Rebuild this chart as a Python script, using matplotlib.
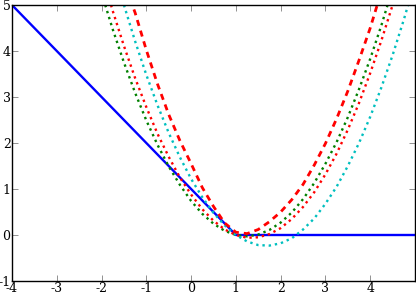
import matplotlib
matplotlib.use('Agg')
import matplotlib.pyplot as plt

plt.rcParams['axes.unicode_minus'] = False

# hinge-style line
x_hinge = [-4, 1, 5]
y_hinge = [5, 0, 0]

x_grid = [-2.0, -1.75, -1.5, -1.25, -1.0, -0.75, -0.5, -0.25, 0.0, 0.25, 0.5, 0.75,
          1.0, 1.25, 1.5, 1.75, 2.0, 2.25, 2.5, 2.75, 3.0, 3.25, 3.5, 3.75, 4.0,
          4.25, 4.5, 4.75, 5.0]

# values (None = out of view)
y_green = [5.26, 4.47, 3.75, 3.09, 2.49, 1.96, 1.49, 1.09, 0.74, 0.46, 0.245, 0.09,
           0.0, -0.03, 0.01, 0.11, 0.27, 0.49, 0.78, 1.13, 1.55, 2.02, 2.56, 3.17, 3.83,
           4.56, 5.36, None, None]
y_red_dot = [5.70, 4.87, 4.11, 3.41, 2.78, 2.20, 1.70, 1.25, 0.88, 0.56, 0.31, 0.12,
             0.0, -0.06, -0.05, 0.02, 0.15, 0.35, 0.61, 0.93, 1.32, 1.77, 2.29, 2.87, 3.52,
             4.23, 5.0, 5.84, None]
y_cyan = [None, 5.86, 5.0, 4.21, 3.48, 2.82, 2.22, 1.69, 1.22, 0.82, 0.48, 0.21,
          0.0, -0.14, -0.22, -0.23, -0.18, -0.07, 0.12, 0.36, 0.68, 1.05, 1.50, 2.0, 2.57,
          3.21, 3.91, 4.68, 5.51]
y_red_dash = [None, None, 5.5, 4.83, 4.02, 3.28, 2.62, 2.05, 1.55, 1.03, 0.62, 0.26,
              0.06, 0.03, 0.12, 0.29, 0.5, 0.77, 1.1, 1.52, 1.99, 2.53, 3.13, 3.8, 4.5,
              5.3, None, None, None]

x_ticks = [-4, -3, -2, -1, 0, 1, 2, 3, 4]
y_ticks = [-1, 0, 1, 2, 3, 4, 5]


def pick(xs, ys):
    pts = [(a, b) for a, b in zip(xs, ys) if b is not None]
    return [p[0] for p in pts], [p[1] for p in pts]


fig = plt.figure(figsize=(4.16, 2.94), dpi=100)
ax = fig.add_axes([12/416, 13/294, 403/416, 276/294])

ax.plot(x_hinge, y_hinge, color='#0000ff', lw=1.7)
xs, ys = pick(x_grid, y_green)
ax.plot(xs, ys, color='#008000', lw=1.7, linestyle=':')
xs, ys = pick(x_grid, y_red_dot)
ax.plot(xs, ys, color='#ff0000', lw=1.7, linestyle=':')
xs, ys = pick(x_grid, y_cyan)
ax.plot(xs, ys, color='#00bfbf', lw=1.7, linestyle=':')
xs, ys = pick(x_grid, y_red_dash)
ax.plot(xs, ys, color='#ff0000', lw=2.0, linestyle=(0, (2.2, 1.8)))

ax.set_xlim(-4, 5)
ax.set_ylim(-1, 5)
ax.set_xticks(x_ticks)
ax.set_yticks(y_ticks)
ax.tick_params(direction='in', length=4, width=0.6, color='#808080',
               top=True, right=True, labelsize=9, pad=1)
for lab in ax.get_xticklabels() + ax.get_yticklabels():
    lab.set_family('DejaVu Serif')
for s in ax.spines.values():
    s.set_linewidth(1.0)

fig.savefig('out.png', dpi=100)
